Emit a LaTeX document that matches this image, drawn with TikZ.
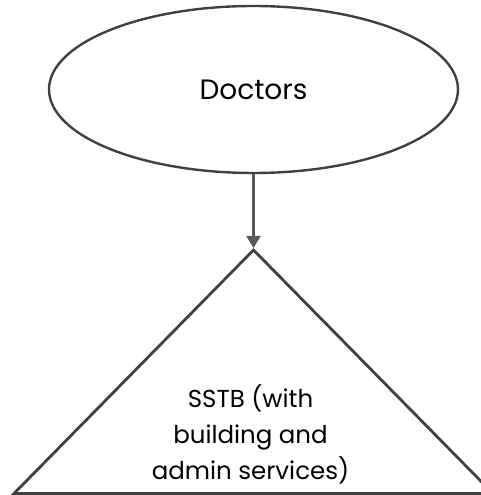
\documentclass[tikz,border=0pt]{standalone}
\usepackage{fontspec}
\setmainfont{Poppins}
\usetikzlibrary{shapes.geometric,arrows.meta}
\definecolor{edge}{HTML}{404040}
\definecolor{link}{HTML}{595959}
\begin{document}
\begin{tikzpicture}[x=1pt,y=1pt,
  actor/.style={ellipse,draw=edge,line width=2.4pt,minimum width=409pt,minimum height=167pt,inner sep=0pt},
  unit/.style={draw=edge,line width=2.8pt,line join=miter},
  flow/.style={draw=link,line width=2.2pt,-{Triangle[length=12pt,width=14pt]}},
  label/.style={align=center,font=\fontsize{24.5}{36}\selectfont}]
\clip (0,0) rectangle (481,495);
\useasboundingbox (0,0) rectangle (481,495);
% top ellipse
\node[actor,font=\fontsize{28}{32}\selectfont] (doctors) at (253.5,405.5) {Doctors};
% triangle corners
\coordinate (apex) at (253.5,245);
\coordinate (bl) at (14,1.5);
\coordinate (br) at (493,1.5);
\draw[unit] (apex) -- (bl) -- (br) -- cycle;
\node[label] (sstb) at (250.5,61) {SSTB (with\\building and\\admin services)};
% connector
\draw[flow] (doctors.south) -- ([yshift=2pt]apex);
\end{tikzpicture}
\end{document}
